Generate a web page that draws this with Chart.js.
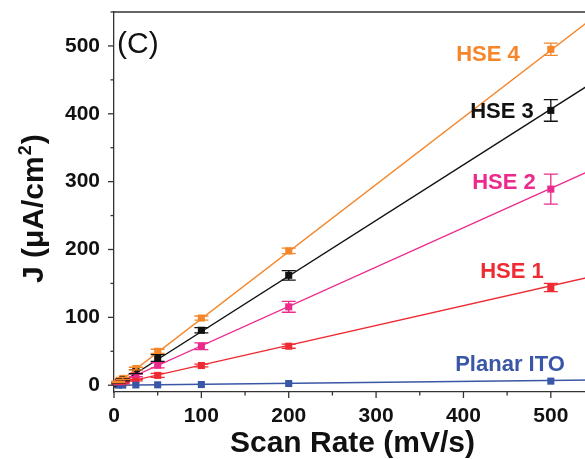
<!DOCTYPE html>
<html>
<head>
<meta charset="utf-8">
<script src="https://cdn.jsdelivr.net/npm/chart.js@4.4.1/dist/chart.umd.min.js"></script>
<style>
  html, body { margin: 0; padding: 0; background: #fff; overflow: hidden; }
  #wrap { width: 596px; height: 459px; position: relative; }
</style>
</head>
<body>
<div id="wrap"><canvas id="chart"></canvas></div>
<script>
// scan rates (mV/s)
const scanRates = [5, 10, 25, 50, 100, 200, 500];

// measured current density (uA/cm2) and error half-widths
const hse4 = [5, 10, 24.5, 50, 99, 198, 495];
const hse4Err = [1, 1.5, 2, 3, 3, 4, 9];
const hse3 = [4, 8, 20, 40, 81, 162, 405];
const hse3Err = [1, 1.5, 3, 5, 4, 7, 16];
const hse2 = [3, 6, 14.5, 29.5, 57.5, 115.5, 289];
const hse2Err = [1, 1, 2, 4, 5, 8, 22];
const hse1 = [1.5, 3, 7.5, 14.5, 29, 57.5, 144];
const hse1Err = [0.5, 1, 1, 3, 2, 3, 6];
const planarITO = [0.1, 0.2, 0.4, 0.6, 1, 2.5, 6];
const planarITOErr = [0, 0, 0, 0, 0, 0, 0];

// linear fits (end points)
const fitX = [0, 560];
const hse4Fit = [-1, 553];
const hse3Fit = [-3, 456];
const hse2Fit = [0, 325];
const hse1Fit = [0.5, 164];
const planarITOFit = [0, 7.8];

const xTicks = [0, 100, 200, 300, 400, 500];
const yTicks = [0, 100, 200, 300, 400, 500];

const colors = {
  hse4: '#F5862A',
  hse3: '#111111',
  hse2: '#EC2A8C',
  hse1: '#EE2B33',
  ito: '#3A56A6'
};

const FONT = '"Liberation Sans", Arial, sans-serif';

function points(xs, ys) {
  return xs.map((x, i) => ({ x: x, y: ys[i] }));
}

function fitSet(ys, color) {
  return {
    data: points(fitX, ys),
    borderColor: color,
    borderWidth: 1.4,
    pointRadius: 0,
    showLine: true,
    fill: false,
    tension: 0
  };
}

function markSet(ys, errs, color) {
  return {
    data: points(scanRates, ys),
    errors: errs,
    showLine: false,
    pointStyle: 'rect',
    pointRadius: 5,
    pointBackgroundColor: color,
    pointBorderColor: color,
    pointBorderWidth: 0,
    errColor: color
  };
}

const seriesLabels = [
  { text: 'HSE 4', color: colors.hse4, x: 488, y: 55 },
  { text: 'HSE 3', color: colors.hse3, x: 502, y: 112 },
  { text: 'HSE 2', color: colors.hse2, x: 504, y: 183 },
  { text: 'HSE 1', color: colors.hse1, x: 512, y: 272 },
  { text: 'Planar ITO', color: colors.ito, x: 510, y: 365 }
];

const decorations = {
  id: 'decorations',
  afterDatasetsDraw(chart) {
    const ctx = chart.ctx;
    const xs = chart.scales.x, ys = chart.scales.y;
    const area = chart.chartArea;
    ctx.save();
    // error bars
    chart.data.datasets.forEach(ds => {
      if (!ds.errors) return;
      ctx.strokeStyle = ds.errColor;
      ctx.lineWidth = 1.3;
      ds.data.forEach((p, i) => {
        const e = ds.errors[i];
        if (!e) return;
        const px = xs.getPixelForValue(p.x);
        const top = ys.getPixelForValue(p.y + e);
        const bot = ys.getPixelForValue(p.y - e);
        ctx.beginPath();
        ctx.moveTo(px, top); ctx.lineTo(px, bot);
        ctx.moveTo(px - 7, top); ctx.lineTo(px + 7, top);
        ctx.moveTo(px - 7, bot); ctx.lineTo(px + 7, bot);
        ctx.stroke();
      });
    });
    // frame top / right
    ctx.strokeStyle = '#333';
    ctx.lineWidth = 1.3;
    ctx.beginPath();
    ctx.moveTo(area.left, area.top);
    ctx.lineTo(area.right, area.top);
    ctx.lineTo(area.right, area.bottom);
    ctx.stroke();
    // tick marks, major and minor
    for (let v = 0; v <= 550; v += 50) {
      const px = xs.getPixelForValue(v);
      const len = v % 100 === 0 ? 6 : 3.5;
      ctx.beginPath();
      ctx.moveTo(px, area.bottom);
      ctx.lineTo(px, area.bottom + len);
      ctx.stroke();
    }
    for (let v = 0; v <= 550; v += 50) {
      const py = ys.getPixelForValue(v);
      const len = v % 100 === 0 ? 6 : 3.5;
      ctx.beginPath();
      ctx.moveTo(area.left, py);
      ctx.lineTo(area.left - len, py);
      ctx.stroke();
    }
    // panel tag
    ctx.fillStyle = '#111';
    ctx.font = '30px ' + FONT;
    ctx.textBaseline = 'middle';
    ctx.textAlign = 'left';
    ctx.fillText('(C)', area.left + 3, 45);
    // series labels
    ctx.font = 'bold 22px ' + FONT;
    ctx.textAlign = 'center';
    seriesLabels.forEach(l => {
      ctx.fillStyle = l.color;
      ctx.fillText(l.text, l.x, l.y);
    });
    // y axis title with superscript
    ctx.translate(43, 283);
    ctx.rotate(-Math.PI / 2);
    ctx.textAlign = 'left';
    ctx.textBaseline = 'alphabetic';
    ctx.fillStyle = '#111';
    ctx.font = 'bold 30px ' + FONT;
    const main = 'J (\u03bcA/cm';
    ctx.fillText(main, 0, 0);
    let w = ctx.measureText(main).width;
    ctx.font = 'bold 18px ' + FONT;
    ctx.fillText('2', w + 1, -12);
    w += ctx.measureText('2').width + 2;
    ctx.font = 'bold 30px ' + FONT;
    ctx.fillText(')', w, 0);
    ctx.restore();
  }
};

new Chart(document.getElementById('chart'), {
  type: 'scatter',
  data: {
    datasets: [
      fitSet(planarITOFit, colors.ito),
      fitSet(hse1Fit, colors.hse1),
      fitSet(hse2Fit, colors.hse2),
      fitSet(hse3Fit, colors.hse3),
      fitSet(hse4Fit, colors.hse4),
      markSet(planarITO, planarITOErr, colors.ito),
      markSet(hse1, hse1Err, colors.hse1),
      markSet(hse2, hse2Err, colors.hse2),
      markSet(hse3, hse3Err, colors.hse3),
      markSet(hse4, hse4Err, colors.hse4)
    ]
  },
  options: {
    responsive: true,
    maintainAspectRatio: false,
    animation: false,
    layout: { padding: { left: 0, right: 2, top: 12, bottom: 0 } },
    plugins: {
      legend: { display: false },
      tooltip: { enabled: false }
    },
    scales: {
      x: {
        type: 'linear',
        min: 0,
        max: 546,
        afterBuildTicks: s => { s.ticks = xTicks.map(v => ({ value: v })); },
        afterFit: s => { s.height = 67; s.paddingLeft = 0; s.paddingRight = 0; },
        grid: { display: false },
        border: { display: true, color: '#333', width: 1.3 },
        ticks: {
          color: '#111',
          padding: 4,
          font: { family: FONT, size: 21, weight: 'bold' }
        },
        title: {
          display: true,
          text: 'Scan Rate (mV/s)',
          color: '#111',
          font: { family: FONT, size: 30, weight: 'bold', lineHeight: 1 },
          padding: { top: 0, bottom: 0 }
        }
      },
      y: {
        type: 'linear',
        min: -10,
        max: 550,
        afterBuildTicks: s => { s.ticks = yTicks.map(v => ({ value: v })); },
        afterFit: s => { s.width = 114; s.paddingTop = 0; s.paddingBottom = 0; },
        grid: { display: false },
        border: { display: true, color: '#333', width: 1.3 },
        ticks: {
          color: '#111',
          padding: 6,
          font: { family: FONT, size: 21, weight: 'bold' }
        },
        title: { display: false }
      }
    }
  },
  plugins: [decorations]
});
</script>
</body>
</html>
